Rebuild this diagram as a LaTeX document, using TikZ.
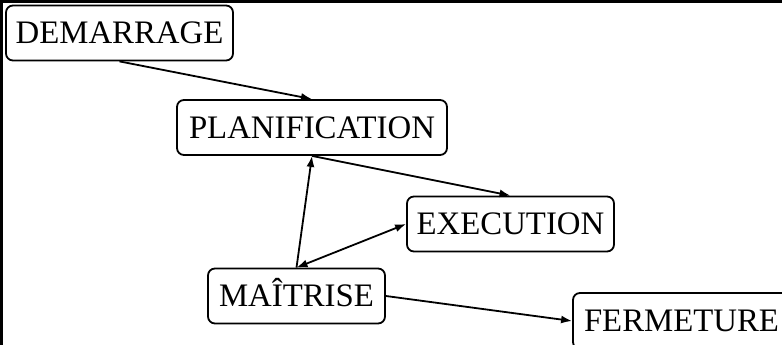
\documentclass[tikz,border=0pt]{standalone}
\usepackage{fontspec}
\setmainfont{Liberation Serif}
\usetikzlibrary{arrows.meta}
\begin{document}
\begin{tikzpicture}[x=1pt,y=1pt,
  box/.style={draw,line width=1.8pt,rounded corners=7pt,inner sep=0pt,
    font=\fontsize{32.8}{33}\selectfont,text height=21.5pt,text depth=0pt,
    minimum height=55pt},
  conn/.style={line width=1.8pt,-{Latex[length=11pt,width=8pt]}},
  bconn/.style={line width=1.8pt,{Latex[length=11pt,width=8pt]}-{Latex[length=11pt,width=8pt]}}]
\useasboundingbox (0,0) rectangle (782,345);
\draw[line width=3pt] (1.5,0) -- (1.5,343.5) -- (782,343.5);
\node[box,minimum width=227pt] (dem) at (119.5,312) {DEMARRAGE};
\node[box,minimum width=270pt] (pla) at (312,217.5) {PLANIFICATION};
\node[box,minimum width=207pt] (exe) at (510.5,121) {EXECUTION};
\node[box,minimum width=177pt] (mai) at (296.5,49) {MAÎTRISE};
\node[box,minimum width=217pt,minimum height=56pt] (fer) at (681.5,24) {FERMETURE};
\draw[conn] (dem.south) -- (pla.north);
\draw[conn] (pla.south) -- (exe.north);
\draw[conn] (mai.north) -- (pla.south);
\draw[bconn] (mai.north) -- (exe.west);
\draw[conn] (mai.east) -- (fer.west);
\end{tikzpicture}
\end{document}
